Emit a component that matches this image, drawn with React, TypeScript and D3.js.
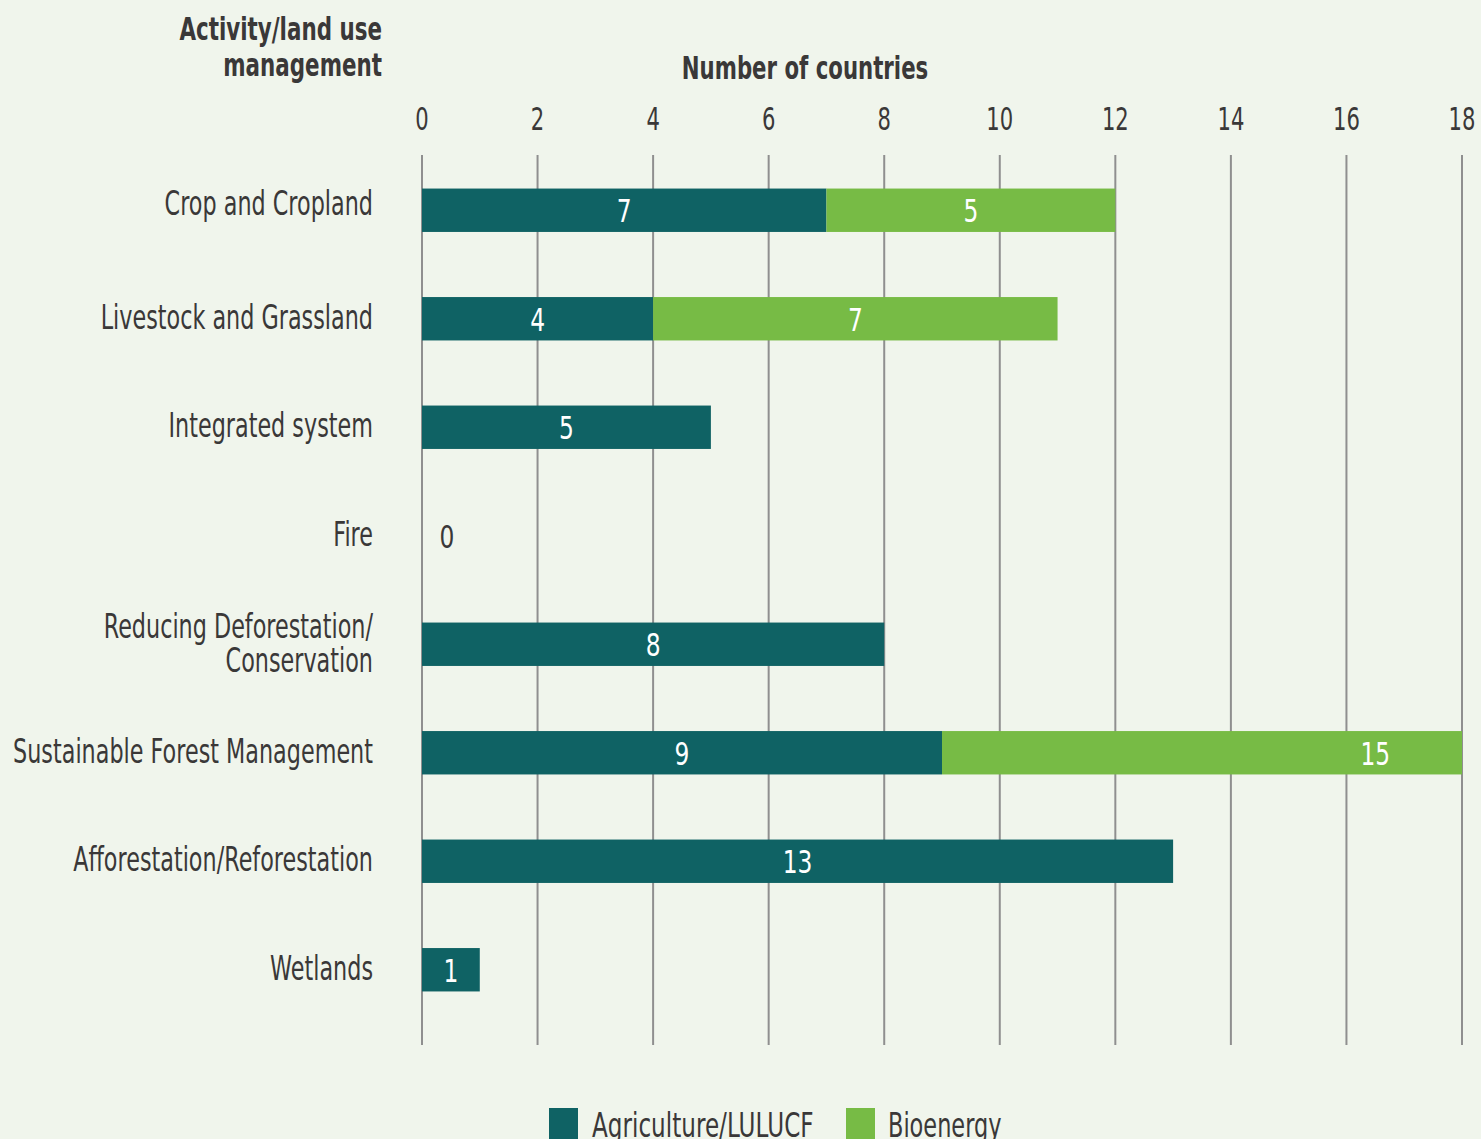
import React from "react";
import * as d3 from "d3";

const categories: string[][] = [
  ["Crop and Cropland"],
  ["Livestock and Grassland"],
  ["Integrated system"],
  ["Fire"],
  ["Reducing Deforestation/", "Conservation"],
  ["Sustainable Forest Management"],
  ["Afforestation/Reforestation"],
  ["Wetlands"],
];
const agriculture = [7, 4, 5, 0, 8, 9, 13, 1];
const bioenergy = [5, 7, 0, 0, 0, 15, 0, 0];
const xTicks = [0, 2, 4, 6, 8, 10, 12, 14, 16, 18];
const seriesNames = ["Agriculture/LULUCF", "Bioenergy"];

const W = 1481;
const H = 1139;
const DARK = "#0f6264";
const GREEN = "#77bb45";
const BG = "#f0f5ec";
const TEXT = "#3a3838";
const FONT = "'DejaVu Sans', sans-serif";

type TProps = {
  x: number;
  y: number;
  anchor?: "start" | "middle" | "end";
  size: number;
  sx: number;
  weight?: string;
  fill?: string;
  children: React.ReactNode;
};
function T({ x, y, anchor = "start", size, sx, weight = "normal", fill = TEXT, children }: TProps) {
  return (
    <text
      transform={`translate(${x},${y}) scale(${sx},1)`}
      textAnchor={anchor}
      fontSize={size}
      fontWeight={weight}
      fill={fill}
    >
      {children}
    </text>
  );
}

export default function App() {
  React.useEffect(() => {
    document.body.style.margin = "0";
    document.body.style.background = BG;
  }, []);
  const x = d3.scaleLinear().domain([0, 18]).range([422, 1462]);
  const y = d3
    .scaleBand<number>()
    .domain(d3.range(categories.length))
    .range([156, 1024])
    .paddingInner(0.6)
    .paddingOuter(0.3);
  const bw = y.bandwidth();
  const xMax = x.domain()[1];
  const clamp = (v: number) => Math.min(v, xMax);
  const LSX = 0.656;

  return (
    <svg width={W} height={H} style={{ display: "block", background: BG }} fontFamily={FONT}>
      <rect x={0} y={0} width={W} height={H} fill={BG} />
      {/* titles */}
      <T x={382} y={40} anchor="end" size={32} sx={0.67} weight="bold">Activity/land use</T>
      <T x={382} y={76} anchor="end" size={32} sx={0.67} weight="bold">management</T>
      <T x={805} y={79} anchor="middle" size={32} sx={0.665} weight="bold">Number of countries</T>
      {/* x ticks */}
      {xTicks.map((t) => (
        <T key={t} x={x(t)} y={130} anchor="middle" size={32} sx={0.66}>{t}</T>
      ))}
      {/* grid */}
      {xTicks.map((t) => (
        <line key={"g" + t} x1={x(t)} x2={x(t)} y1={155} y2={1045} stroke="#8f8f8f" strokeWidth={2} />
      ))}
      {/* bars */}
      {categories.map((c, i) => {
        const a = agriculture[i];
        const b = bioenergy[i];
        const y0 = y(i)!;
        const cy = y0 + bw / 2;
        return (
          <g key={i}>
            {a > 0 && (
              <rect x={x(0)} y={y0} width={x(clamp(a)) - x(0)} height={bw} fill={DARK} />
            )}
            {b > 0 && (
              <rect x={x(clamp(a))} y={y0} width={x(clamp(a + b)) - x(clamp(a))} height={bw} fill={GREEN} />
            )}
            {a > 0 ? (
              <T x={x(a / 2)} y={cy + 12} anchor="middle" size={32} sx={0.73} fill="#fff">{a}</T>
            ) : (
              b === 0 && <T x={x(0) + 25} y={cy + 12} anchor="middle" size={32} sx={0.73}>0</T>
            )}
            {b > 0 && (
              <T x={x(a + b / 2)} y={cy + 12} anchor="middle" size={32} sx={0.73} fill="#fff">{b}</T>
            )}
            {c.length === 1 ? (
              <T x={373} y={cy + (i === 0 ? 5 : 10)} anchor="end" size={34} sx={LSX}>{c[0]}</T>
            ) : (
              c.map((line, k) => (
                <T key={k} x={373} y={cy - 6 + k * 34} anchor="end" size={33} sx={LSX * 34 / 33}>{line}</T>
              ))
            )}
          </g>
        );
      })}
      {/* legend */}
      <rect x={549} y={1108} width={29} height={31} fill={DARK} />
      <T x={592} y={1137} size={34} sx={0.68}>{seriesNames[0]}</T>
      <rect x={846} y={1108} width={29} height={31} fill={GREEN} />
      <T x={888} y={1137} size={34} sx={0.66}>{seriesNames[1]}</T>
    </svg>
  );
}
